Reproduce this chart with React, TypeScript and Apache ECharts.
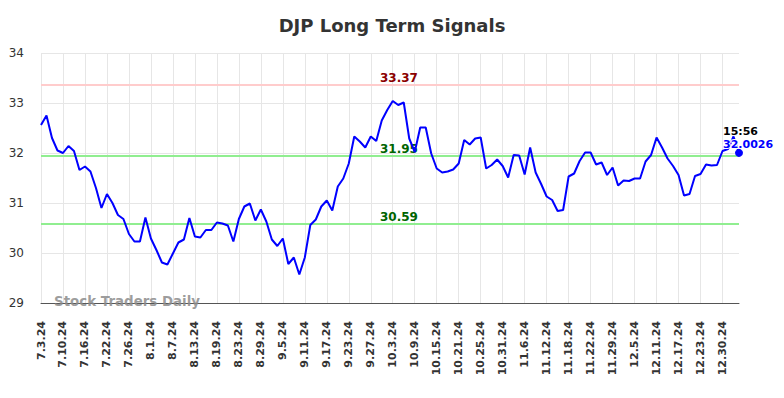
import React, { useEffect, useRef } from "react";
import * as echarts from "echarts";

const dates: string[] = [
  "7.3.24", "7.5.24", "7.8.24", "7.9.24", "7.10.24", "7.11.24", "7.12.24", "7.15.24", "7.16.24", "7.17.24",
  "7.18.24", "7.19.24", "7.22.24", "7.23.24", "7.24.24", "7.25.24", "7.26.24", "7.29.24", "7.30.24", "7.31.24",
  "8.1.24", "8.2.24", "8.5.24", "8.6.24", "8.7.24", "8.8.24", "8.9.24", "8.12.24", "8.13.24", "8.14.24",
  "8.15.24", "8.16.24", "8.19.24", "8.20.24", "8.21.24", "8.22.24", "8.23.24", "8.26.24", "8.27.24", "8.28.24",
  "8.29.24", "8.30.24", "9.3.24", "9.4.24", "9.5.24", "9.6.24", "9.9.24", "9.10.24", "9.11.24", "9.12.24",
  "9.13.24", "9.16.24", "9.17.24", "9.18.24", "9.19.24", "9.20.24", "9.23.24", "9.24.24", "9.25.24", "9.26.24",
  "9.27.24", "9.30.24", "10.1.24", "10.2.24", "10.3.24", "10.4.24", "10.7.24", "10.8.24", "10.9.24", "10.10.24",
  "10.11.24", "10.14.24", "10.15.24", "10.16.24", "10.17.24", "10.18.24", "10.21.24", "10.22.24", "10.23.24", "10.24.24",
  "10.25.24", "10.28.24", "10.29.24", "10.30.24", "10.31.24", "11.1.24", "11.4.24", "11.5.24", "11.6.24", "11.7.24",
  "11.8.24", "11.11.24", "11.12.24", "11.13.24", "11.14.24", "11.15.24", "11.18.24", "11.19.24", "11.20.24", "11.21.24",
  "11.22.24", "11.25.24", "11.26.24", "11.27.24", "11.29.24", "12.2.24", "12.3.24", "12.4.24", "12.5.24", "12.6.24",
  "12.9.24", "12.10.24", "12.11.24", "12.12.24", "12.13.24", "12.16.24", "12.17.24", "12.18.24", "12.19.24", "12.20.24",
  "12.23.24", "12.24.24", "12.26.24", "12.27.24", "12.30.24", "12.31.24", "1.2.25", "1.3.25",
];

const prices: number[] = [
  32.56, 32.75, 32.30, 32.05, 32.00, 32.14, 32.04, 31.66, 31.73, 31.63,
  31.30, 30.90, 31.18, 31.00, 30.76, 30.68, 30.38, 30.23, 30.23, 30.71,
  30.29, 30.06, 29.81, 29.77, 29.99, 30.21, 30.27, 30.70, 30.33, 30.31,
  30.46, 30.46, 30.61, 30.59, 30.55, 30.23, 30.68, 30.93, 30.99, 30.65,
  30.87, 30.63, 30.27, 30.14, 30.29, 29.78, 29.91, 29.57, 29.91, 30.56,
  30.67, 30.93, 31.05, 30.85, 31.33, 31.49, 31.79, 32.33, 32.23, 32.11,
  32.33, 32.24, 32.65, 32.86, 33.04, 32.96, 33.01, 32.29, 32.02, 32.51,
  32.51, 31.99, 31.69, 31.61, 31.63, 31.67, 31.79, 32.26, 32.17, 32.29,
  32.31, 31.69, 31.76, 31.87, 31.74, 31.51, 31.96, 31.95, 31.57, 32.11,
  31.61, 31.38, 31.13, 31.06, 30.84, 30.86, 31.53, 31.59, 31.84, 32.01,
  32.01, 31.77, 31.81, 31.56, 31.71, 31.35, 31.45, 31.44, 31.49, 31.49,
  31.83, 31.96, 32.31, 32.11, 31.89, 31.74, 31.56, 31.15, 31.18, 31.54,
  31.58, 31.77, 31.75, 31.76, 32.04, 32.08, 32.33, 32.0026,
];

const resistance = 33.37;
const middleLevel = 31.95;
const support = 30.59;
const lastTime = "15:56";
const lastValueText = "32.0026";

const yTicks = { min: 29, max: 34, interval: 1 };

export default function App() {
  const ref = useRef<HTMLDivElement>(null);

  useEffect(() => {
    if (!ref.current) return;
    const chart = echarts.init(ref.current, undefined, { renderer: "svg" });
    const lastIdx = prices.length - 1;
    const seriesData = prices.map((v, i) =>
      i === lastIdx
        ? {
            value: v,
            symbol: "circle",
            symbolSize: 8,
            itemStyle: { color: "#0000ff" },
            label: {
              show: true,
              position: "top",
              align: "left",
              distance: 1,
              offset: [-16, 3],
              formatter: `{t|${lastTime}}\n{v|${lastValueText}}`,
              rich: {
                t: {
                  color: "#000",
                  fontWeight: "bold",
                  fontSize: 11,
                  fontFamily: "DejaVu Sans",
                  lineHeight: 13,
                  textBorderColor: "#fff",
                  textBorderWidth: 2,
                },
                v: {
                  color: "#0000ff",
                  fontWeight: "bold",
                  fontSize: 11,
                  fontFamily: "DejaVu Sans",
                  lineHeight: 13,
                  textBorderColor: "#fff",
                  textBorderWidth: 2,
                },
              },
            },
          }
        : v
    );

    const mlLabel = (color: string) => ({
      show: true,
      position: "insideMiddleTop",
      distance: 1,
      offset: [9, 0],
      color,
      fontWeight: "bold",
      fontSize: 12,
      fontFamily: "DejaVu Sans",
      formatter: (p: any) => String(p.value),
    });

    chart.setOption({
      animation: false,
      backgroundColor: "#fff",
      title: {
        text: "DJP Long Term Signals",
        left: "center",
        top: 11,
        textStyle: {
          fontFamily: "DejaVu Sans",
          fontWeight: "bold",
          fontSize: 18,
          color: "#333",
        },
      },
      grid: { left: 41, right: 45, top: 53, bottom: 95, containLabel: false },
      xAxis: {
        type: "category",
        data: dates,
        boundaryGap: false,
        axisLine: { show: true, lineStyle: { color: "#555", width: 1 } },
        axisTick: { show: false },
        axisLabel: {
          interval: 3,
          rotate: 90,
          margin: 18,
          color: "#333",
          fontSize: 11,
          fontWeight: "bold",
          fontFamily: "DejaVu Sans",
        },
        splitLine: { show: true, interval: 3, lineStyle: { color: "#e6e6e6", width: 1 } },
      },
      yAxis: {
        type: "value",
        min: yTicks.min,
        max: yTicks.max,
        interval: yTicks.interval,
        axisLine: { show: false },
        axisTick: { show: false },
        axisLabel: {
          margin: 17,
          color: "#333",
          fontSize: 12,
          fontFamily: "DejaVu Sans",
        },
        splitLine: { show: true, lineStyle: { color: "#e6e6e6", width: 1 } },
      },
      graphic: [
        {
          type: "text",
          left: 54,
          top: 295,
          z: 10,
          style: {
            text: "Stock Traders Daily",
            fill: "rgba(140,140,140,0.85)",
            font: "bold 13.4px 'DejaVu Sans'",
          },
        },
      ],
      series: [
        {
          type: "line",
          data: seriesData,
          symbol: "none",
          showAllSymbol: true,
          lineStyle: { color: "#0000ff", width: 2 },
          itemStyle: { color: "#0000ff" },
          z: 3,
          markLine: {
            silent: true,
            symbol: ["none", "none"],
            z: 2,
            data: [
              {
                yAxis: resistance,
                lineStyle: { color: "#ffcccc", width: 2, type: "solid" },
                label: mlLabel("#8b0000"),
              },
              {
                yAxis: middleLevel,
                lineStyle: { color: "#90ee90", width: 2, type: "solid" },
                label: mlLabel("#006400"),
              },
              {
                yAxis: support,
                lineStyle: { color: "#90ee90", width: 2, type: "solid" },
                label: mlLabel("#006400"),
              },
            ],
          },
        },
      ],
    });

    return () => chart.dispose();
  }, []);

  return (
    <div
      ref={ref}
      style={{ position: "fixed", left: 0, top: 0, width: 784, height: 398 }}
    />
  );
}
